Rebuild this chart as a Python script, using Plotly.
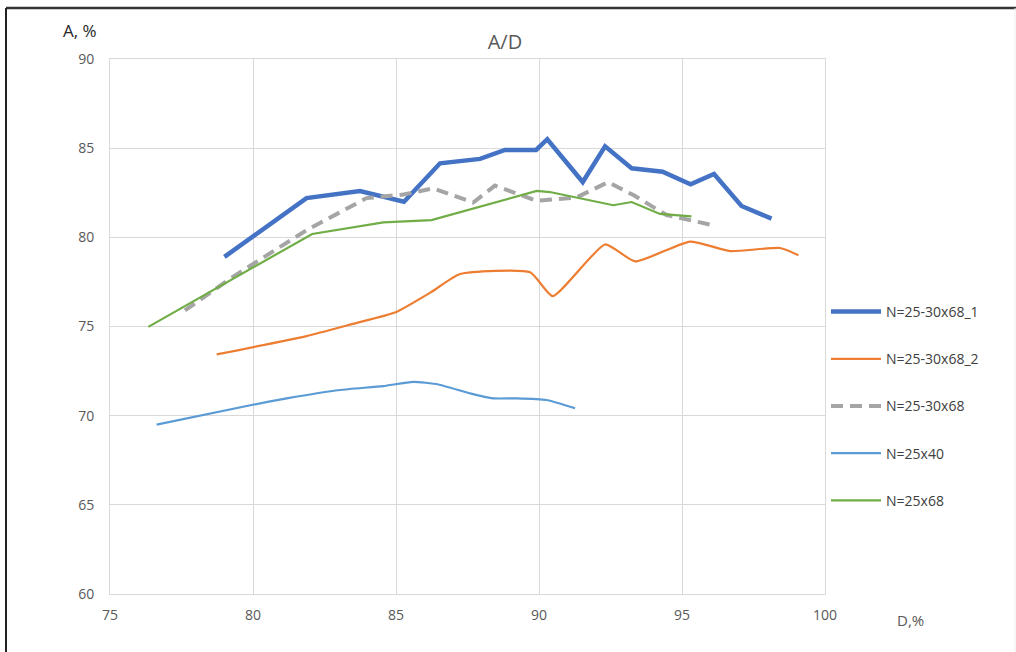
import plotly.graph_objects as go

# Series data (D, %) -> (A, %)
d_s1 = [79.0, 81.87, 83.74, 85.28, 86.54, 87.94, 88.81, 89.9, 90.29, 91.53, 92.31, 93.24, 94.32, 95.30, 96.12, 97.08, 98.13]
a_s1 = [78.9, 82.2, 82.6, 82.0, 84.15, 84.4, 84.9, 84.9, 85.5, 83.1, 85.1, 83.87, 83.68, 82.97, 83.55, 81.76, 81.05]

d_s2 = [78.73, 81.87, 83.5, 84.99, 86.2, 87.24, 89.69, 90.48, 92.31, 93.36, 95.28, 96.68, 98.43, 99.07]
a_s2 = [73.44, 74.46, 75.15, 75.8, 76.9, 77.94, 78.04, 76.7, 79.6, 78.65, 79.76, 79.23, 79.4, 79.0]

d_s3 = [77.62, 79.31, 81.87, 83.97, 85.26, 86.3, 87.7, 88.46, 89.92, 91.32, 92.42, 93.3, 94.46, 96.03]
a_s3 = [75.9, 77.8, 80.4, 82.2, 82.4, 82.75, 81.95, 82.9, 82.05, 82.24, 83.1, 82.37, 81.25, 80.7]

d_s4 = [76.63, 79.95, 81.18, 83.04, 84.56, 85.6, 86.48, 87.59, 88.4, 89.22, 90.26, 91.26]
a_s4 = [69.5, 70.6, 70.97, 71.44, 71.66, 71.9, 71.75, 71.25, 70.97, 70.97, 70.88, 70.42]

d_s5 = [76.34, 82.07, 84.56, 86.24, 89.92, 90.38, 92.6, 93.24, 94.23, 95.33]
a_s5 = [74.98, 80.19, 80.84, 80.97, 82.6, 82.54, 81.8, 81.98, 81.31, 81.18]

names = ["N=25-30x68_1", "N=25-30x68_2", "N=25-30x68", "N=25x40", "N=25x68"]
x_ticks = [75, 80, 85, 90, 95, 100]
y_ticks = [60, 65, 70, 75, 80, 85, 90]

series = [
    (d_s1, a_s1, dict(color="#4472C4", width=4.5), "linear"),
    (d_s2, a_s2, dict(color="#ED7D31", width=2.2), "spline"),
    (d_s3, a_s3, dict(color="#A5A5A5", width=4, dash="12px,7px"), "linear"),
    (d_s4, a_s4, dict(color="#5B9BD5", width=2.2), "spline"),
    (d_s5, a_s5, dict(color="#70AD47", width=2.2), "linear"),
]

fig = go.Figure()
for i, (xs, ys, ln, shape) in enumerate(series):
    ln = dict(ln)
    ln["shape"] = shape
    if shape == "spline":
        ln["smoothing"] = 0.5
    fig.add_trace(go.Scatter(x=xs, y=ys, mode="lines", name=names[i], line=ln,
                             legendgroup=f"g{i}"))

W, H = 1016, 652
L, R, T, B = 110, 191, 59, 58
pw, ph = W - L - R, H - T - B

fig.update_layout(
    width=W, height=H,
    margin=dict(l=L, r=R, t=T, b=B),
    paper_bgcolor="white", plot_bgcolor="white",
    font=dict(family="Open Sans, Liberation Sans, sans-serif", color="#595959", size=14),
    title=dict(text="A/D", x=0.497, xref="container", xanchor="center",
               y=1 - 42 / H, yref="container", yanchor="middle",
               font=dict(size=20, color="#595959")),
    showlegend=True,
    legend=dict(x=(826 - L) / pw, xanchor="left", y=1 - (296 - T) / ph, yanchor="top",
                tracegroupgap=26, itemwidth=50, font=dict(size=14, color="#404040"),
                bgcolor="rgba(0,0,0,0)"),
    xaxis=dict(range=[75, 100], tickvals=x_ticks, showgrid=True, gridcolor="#D9D9D9",
               gridwidth=1.3, zeroline=False, showline=True, linecolor="#D9D9D9",
               mirror=True, ticks="", ticklabelstandoff=8),
    yaxis=dict(range=[60, 90], tickvals=y_ticks, showgrid=True, gridcolor="#D9D9D9",
               gridwidth=1.3, zeroline=False, showline=True, linecolor="#D9D9D9",
               mirror=True, ticks="", ticklabelstandoff=12),
    annotations=[
        dict(text="A, %", xref="paper", yref="paper", x=(80 - L) / pw, y=1 + (T - 30) / ph,
             xanchor="center", yanchor="middle", showarrow=False,
             font=dict(size=17, color="#262626")),
        dict(text="D,%", xref="paper", yref="paper", x=(910 - L) / pw, y=-(620 - (T + ph)) / ph,
             xanchor="center", yanchor="middle", showarrow=False,
             font=dict(size=15, color="#595959")),
    ],
    shapes=[
        dict(type="line", xref="paper", yref="paper", x0=(6 - L) / pw, x1=(1016 - L) / pw,
             y0=1 + (T - 8) / ph, y1=1 + (T - 8) / ph, line=dict(color="#333333", width=2.5)),
        dict(type="line", xref="paper", yref="paper", x0=(6 - L) / pw, x1=(6 - L) / pw,
             y0=1 + (T - 8) / ph, y1=-(H - (T + ph)) / ph, line=dict(color="#222222", width=2)),
        dict(type="line", xref="paper", yref="paper", x0=(1015 - L) / pw, x1=(1015 - L) / pw,
             y0=1 + (T - 8) / ph, y1=-(H - (T + ph)) / ph, line=dict(color="#EEEEEE", width=1)),
    ],
)

fig.write_html("out.html", config={"displayModeBar": False},
               post_script="document.body.style.margin='0';document.body.style.padding='0';")
